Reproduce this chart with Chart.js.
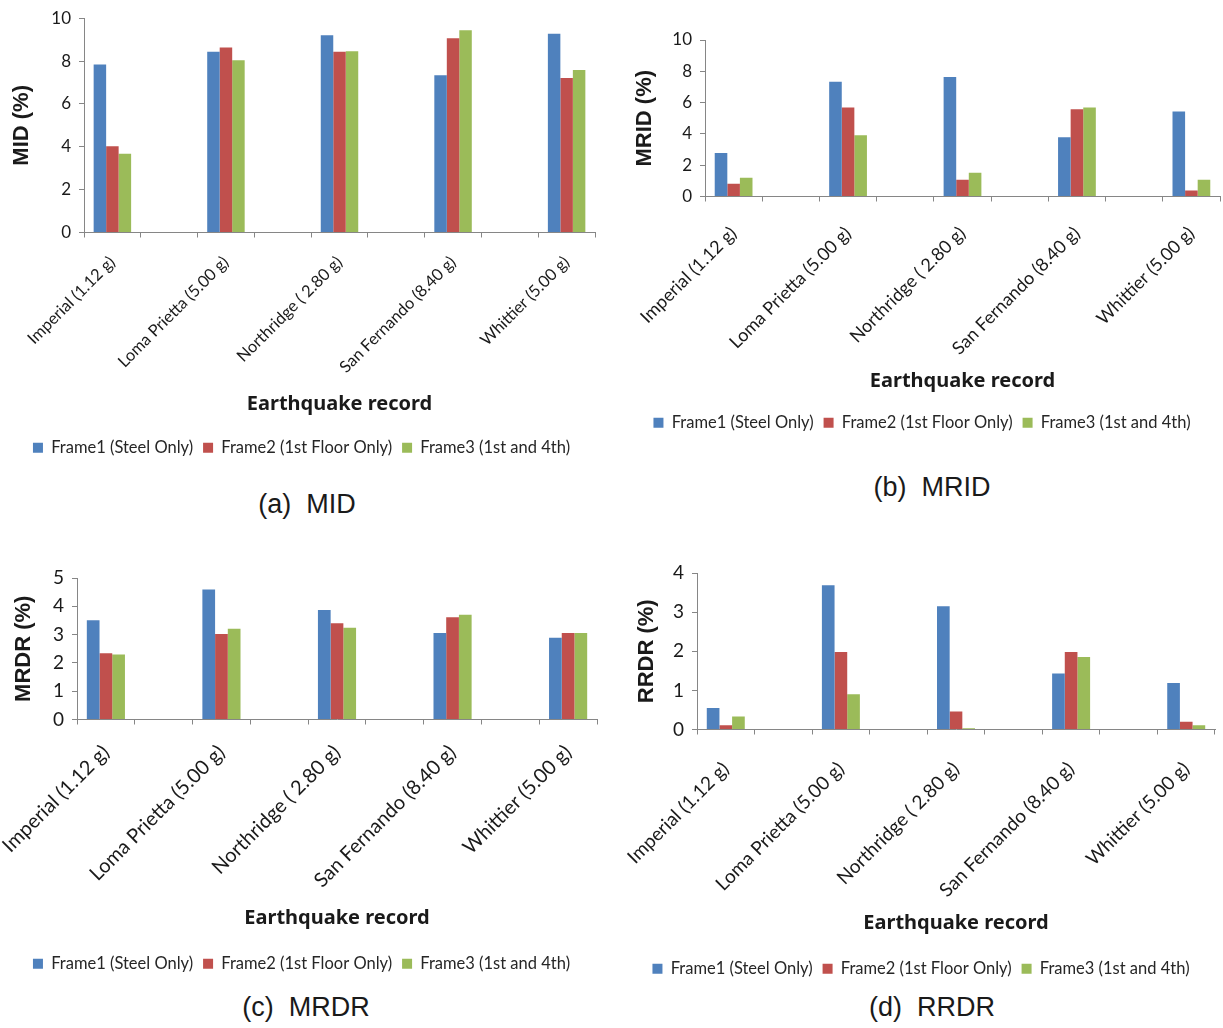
<!DOCTYPE html>
<html lang="en">
<head>
    <meta charset="UTF-8">
    <title>Earthquake response charts</title>
    <script src="https://cdn.jsdelivr.net/npm/chart.js"></script>
    <style>
        body { margin: 0; background: #fff; width: 1223px; height: 1028px; position: relative; overflow: hidden; }
        .panel { position: absolute; }
        .caption { position: absolute; font-family: "Liberation Sans", Arial, sans-serif; font-size: 27px; color: #1a1a1a; transform: translateX(-50%); white-space: pre; }
    </style>
</head>
<body>
    <canvas id="chartMID" class="panel" width="612" height="470" style="left:0px;top:0px"></canvas>
    <canvas id="chartMRID" class="panel" width="611" height="445" style="left:612px;top:0px"></canvas>
    <canvas id="chartMRDR" class="panel" width="612" height="446" style="left:0px;top:540px"></canvas>
    <canvas id="chartRRDR" class="panel" width="611" height="451" style="left:612px;top:540px"></canvas>

    <div class="caption" style="left:307px;top:489px">(a)  MID</div>
    <div class="caption" style="left:932px;top:472px">(b)  MRID</div>
    <div class="caption" style="left:306px;top:992px">(c)  MRDR</div>
    <div class="caption" style="left:932px;top:992px">(d)  RRDR</div>

    <script>
        // Categories (empty entries are the blank spacer columns between records)
        const records = ['Imperial (1.12 g)', '', 'Loma Prietta (5.00 g)', '', 'Northridge ( 2.80 g)', '', 'San Fernando (8.40 g)', '', 'Whittier (5.00 g)'];
        const seriesNames = ['Frame1 (Steel Only)', 'Frame2 (1st Floor Only)', 'Frame3 (1st and 4th)'];
        const seriesColors = ['#4F81BD', '#C0504D', '#9BBB59'];

        // (a) MID (%)
        const midFrame1 = [7.84, null, 8.43, null, 9.21, null, 7.34, null, 9.28];
        const midFrame2 = [4.02, null, 8.63, null, 8.43, null, 9.06, null, 7.21];
        const midFrame3 = [3.68, null, 8.04, null, 8.46, null, 9.44, null, 7.58];

        // (b) MRID (%)
        const mridFrame1 = [2.78, null, 7.33, null, 7.64, null, 3.79, null, 5.43];
        const mridFrame2 = [0.82, null, 5.68, null, 1.07, null, 5.58, null, 0.38];
        const mridFrame3 = [1.20, null, 3.92, null, 1.52, null, 5.68, null, 1.07];

        // (c) MRDR (%)
        const mrdrFrame1 = [3.51, null, 4.59, null, 3.87, null, 3.06, null, 2.89];
        const mrdrFrame2 = [2.34, null, 3.02, null, 3.40, null, 3.61, null, 3.06];
        const mrdrFrame3 = [2.30, null, 3.21, null, 3.24, null, 3.70, null, 3.06];

        // (d) RRDR (%)
        const rrdrFrame1 = [0.55, null, 3.69, null, 3.15, null, 1.43, null, 1.19];
        const rrdrFrame2 = [0.11, null, 1.98, null, 0.46, null, 1.98, null, 0.20];
        const rrdrFrame3 = [0.33, null, 0.90, null, 0.03, null, 1.85, null, 0.11];

        const axisColor = '#868686';
        const textColor = '#1a1a1a';
        const bodyFont = 'Lato, "Open Sans", sans-serif';

        // Build one bar panel; box sizes are fixed so the plot area lands where it should
        function makePanel(id, cfg) {
            const datasets = cfg.series.map((values, i) => ({
                label: seriesNames[i],
                data: values,
                backgroundColor: seriesColors[i],
                borderWidth: 0,
                categoryPercentage: 0.66,
                barPercentage: 1.0
            }));

            return new Chart(document.getElementById(id), {
                type: 'bar',
                data: { labels: records, datasets: datasets },
                options: {
                    responsive: false,
                    animation: false,
                    layout: { padding: cfg.padding },
                    plugins: {
                        tooltip: { enabled: false },
                        legend: {
                            position: 'bottom',
                            labels: {
                                boxWidth: 10,
                                boxHeight: 10,
                                padding: 10,
                                color: '#262626',
                                font: { family: bodyFont, size: 16.5 }
                            }
                        }
                    },
                    scales: {
                        x: {
                            afterFit: scale => {
                                scale.height = cfg.xHeight;
                                // rotated labels may hang past the plot edge, don't let that move the plot
                                scale.paddingLeft = 0;
                                scale.paddingRight = 0;
                            },
                            grid: { display: true, drawOnChartArea: false, tickLength: 5, color: axisColor, offset: true },
                            border: { color: axisColor },
                            ticks: {
                                autoSkip: false,
                                minRotation: 45,
                                maxRotation: 45,
                                padding: cfg.xPad,
                                color: textColor,
                                font: { family: bodyFont, size: cfg.xFont }
                            },
                            title: {
                                display: true,
                                text: 'Earthquake record',
                                color: textColor,
                                padding: { top: 0, bottom: cfg.xTitlePad },
                                font: { family: '"Noto Sans", "Open Sans", sans-serif', size: 20, weight: 'bold' }
                            }
                        },
                        y: {
                            min: 0,
                            max: cfg.max,
                            afterFit: scale => { scale.width = cfg.yWidth; },
                            grid: { display: true, drawOnChartArea: false, tickLength: 5, color: axisColor },
                            border: { color: axisColor },
                            ticks: {
                                stepSize: cfg.step,
                                padding: 8,
                                color: textColor,
                                font: { family: bodyFont, size: cfg.yFont }
                            },
                            title: {
                                display: true,
                                text: cfg.yTitle,
                                color: textColor,
                                padding: { top: cfg.yTitlePad, bottom: 0 },
                                font: { family: '"Liberation Sans", Arial, sans-serif', size: 22, weight: 'bold' }
                            }
                        }
                    }
                }
            });
        }

        makePanel('chartMID', {
            series: [midFrame1, midFrame2, midFrame3], yTitle: 'MID (%)', max: 10, step: 2,
            padding: { left: 8, top: 15, right: 17, bottom: 4 },
            yWidth: 76, xHeight: 197, xTitlePad: 13, yTitlePad: 1, xFont: 16.4, yFont: 17, xPad: 15
        });

        makePanel('chartMRID', {
            series: [mridFrame1, mridFrame2, mridFrame3], yTitle: 'MRID (%)', max: 10, step: 2,
            padding: { left: 12, top: 40, right: 3, bottom: 4 },
            yWidth: 81, xHeight: 208, xTitlePad: 11, yTitlePad: 8, xFont: 18, yFont: 17, xPad: 21
        });

        makePanel('chartMRDR', {
            series: [mrdrFrame1, mrdrFrame2, mrdrFrame3], yTitle: 'MRDR (%)', max: 5, step: 1,
            padding: { left: 6, top: 38, right: 15, bottom: 4 },
            yWidth: 71, xHeight: 226, xTitlePad: 15, yTitlePad: 5, xFont: 20, yFont: 19, xPad: 16
        });

        makePanel('chartRRDR', {
            series: [rrdrFrame1, rrdrFrame2, rrdrFrame3], yTitle: 'RRDR (%)', max: 4, step: 1,
            padding: { left: 15, top: 33, right: 8, bottom: 4 },
            yWidth: 70, xHeight: 221, xTitlePad: 15, yTitlePad: 7, xFont: 19, yFont: 19, xPad: 23
        });
    </script>
</body>
</html>
